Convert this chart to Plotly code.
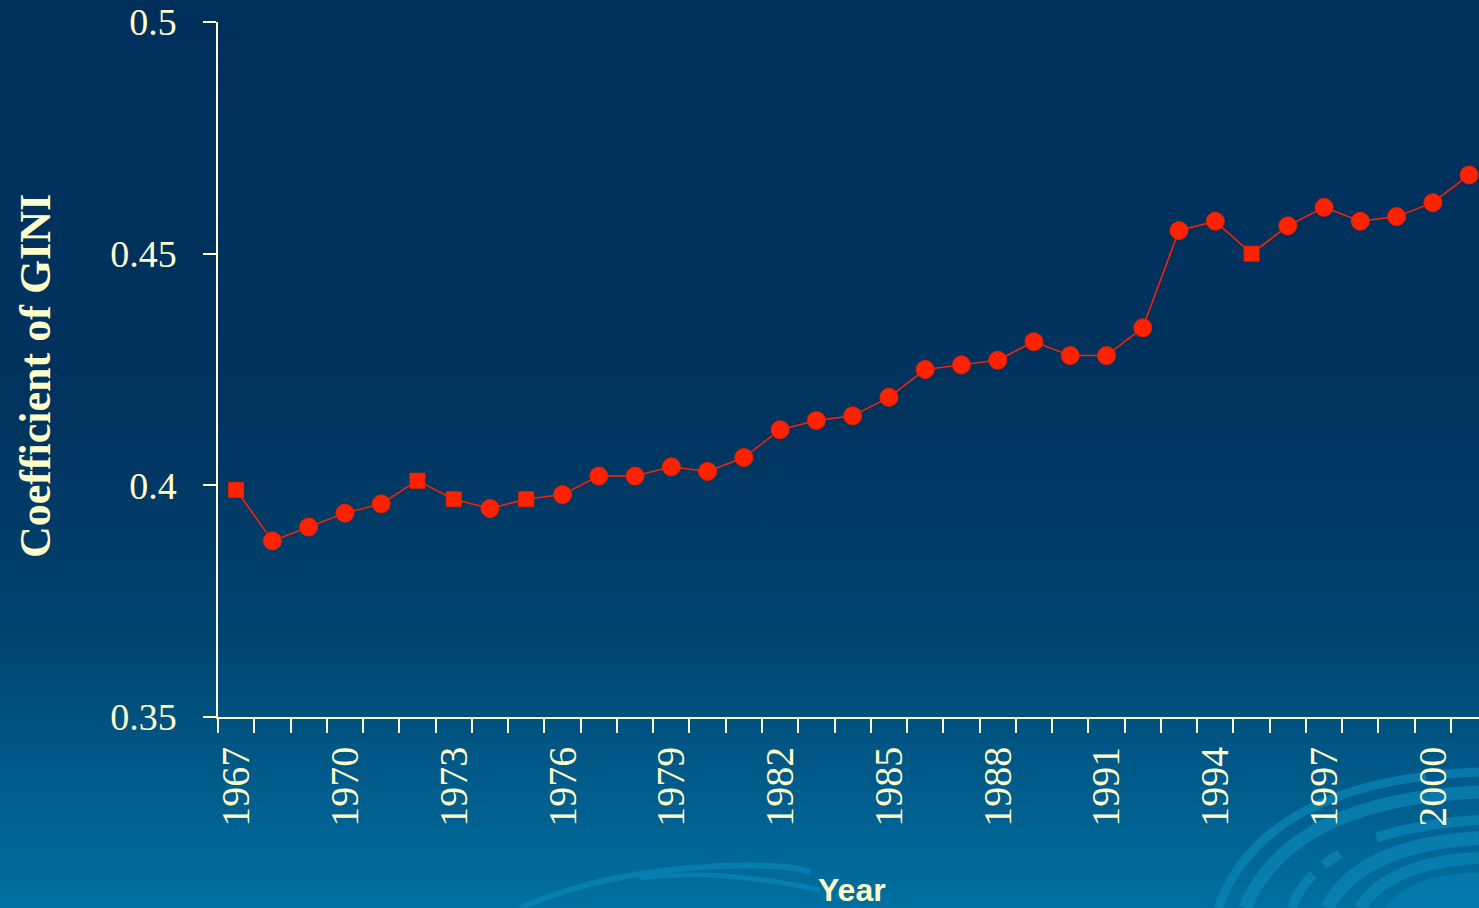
import base64
import plotly.graph_objects as go

# Household income Gini coefficient, 1967-2001
years = list(range(1967, 2002))
gini = [0.399, 0.388, 0.391, 0.394, 0.396, 0.401, 0.397, 0.395, 0.397, 0.398,
        0.402, 0.402, 0.404, 0.403, 0.406, 0.412, 0.414, 0.415, 0.419, 0.425,
        0.426, 0.427, 0.431, 0.428, 0.428, 0.434, 0.455, 0.457, 0.450, 0.456,
        0.460, 0.457, 0.458, 0.461, 0.467]
square_years = [1967, 1972, 1973, 1975, 1995]

y_ticks = [0.35, 0.4, 0.45, 0.5]
y_ticktext = ["0.35", "0.4", "0.45", "0.5"]
x_label_years = years[::3]

W, H = 1479, 908
L, R, T, B = 218, 0, 22, 191
plot_w = W - L - R
plot_h = H - T - B

CREAM = "#FFFFCC"
RED = "#FF2200"
SERIF = "Liberation Serif, Times New Roman, serif"

# Slide background: vertical gradient with decorative swirl arcs
bg_svg = f"""<svg xmlns='http://www.w3.org/2000/svg' width='{W}' height='{H}' viewBox='0 0 {W} {H}' preserveAspectRatio='none'>
<defs><linearGradient id='g' x1='0' y1='0' x2='0' y2='1'>
<stop offset='0' stop-color='#002F5B'/>
<stop offset='0.45' stop-color='#00335E'/>
<stop offset='0.70' stop-color='#004470'/>
<stop offset='0.88' stop-color='#005E8E'/>
<stop offset='1' stop-color='#0070A0'/>
</linearGradient></defs>
<rect width='{W}' height='{H}' fill='url(#g)'/>
<g fill='none' stroke='#0A84B6' stroke-opacity='0.75' stroke-linecap='butt'>
<path d='M 1218 908 Q 1265 780 1479 772' stroke-width='9' stroke-dasharray='260 18 400'/>
<path d='M 1245 908 Q 1290 800 1479 792' stroke-width='13'/>
<path d='M 1292 908 Q 1320 830 1479 820' stroke-width='10' stroke-dasharray='40 14 20 40 200'/>
<path d='M 1327 908 Q 1360 845 1479 838' stroke-width='14'/>
<path d='M 1360 908 Q 1390 862 1479 858' stroke-width='12'/>
<path d='M 520 908 Q 600 872 720 866 Q 790 864 810 872' stroke-width='6'/>
<path d='M 640 878 Q 720 868 820 890' stroke-width='5'/>
</g>
<ellipse cx='1470' cy='935' rx='95' ry='62' fill='#0A84B6' fill-opacity='0.55'/>
</svg>"""
bg_uri = "data:image/svg+xml;base64," + base64.b64encode(bg_svg.encode()).decode()

symbols = ["square" if y in square_years else "circle" for y in years]
sizes = [15 if y in square_years else 18 for y in years]

fig = go.Figure()
fig.add_trace(go.Scatter(
    x=years, y=gini, mode="lines+markers",
    line=dict(color=RED, width=1.5),
    marker=dict(symbol=symbols, size=sizes, color=RED, opacity=1,
                line=dict(color="#E82000", width=1)),
    cliponaxis=False, showlegend=False,
))

boundaries = [y - 0.5 for y in years] + [years[-1] + 0.5]
x_start = years[0] - 0.5
x_end = x_start + (plot_w + 4) / 36.38

fig.update_layout(
    width=W, height=H,
    margin=dict(l=L, r=R, t=T, b=B, pad=0),
    paper_bgcolor="#002F5B",
    plot_bgcolor="rgba(0,0,0,0)",
    images=[dict(source=bg_uri, xref="paper", yref="paper",
                 x=-L / plot_w, y=1 + T / plot_h,
                 sizex=W / plot_w, sizey=H / plot_h,
                 xanchor="left", yanchor="top", sizing="stretch",
                 layer="below")],
    xaxis=dict(
        range=[x_start, x_end],
        showgrid=False, zeroline=False,
        showline=True, linecolor=CREAM, linewidth=1.5,
        tickmode="array", tickvals=x_label_years,
        ticktext=[str(y) for y in x_label_years],
        ticks="", tickangle=-90,
        tickfont=dict(family=SERIF, size=40, color=CREAM),
        ticklabelstandoff=12,
        minor=dict(tickmode="array", tickvals=boundaries, ticks="outside",
                   ticklen=14, tickwidth=1.5, tickcolor=CREAM, showgrid=False),
    ),
    yaxis=dict(
        range=[0.35, 0.5],
        showgrid=False, zeroline=False,
        showline=True, linecolor=CREAM, linewidth=1.5,
        tickmode="array", tickvals=y_ticks, ticktext=y_ticktext,
        ticks="outside", ticklen=13, tickwidth=1.5, tickcolor=CREAM,
        tickfont=dict(family=SERIF, size=38, color=CREAM),
        ticklabelstandoff=19,
    ),
    annotations=[
        dict(text="<b>Coefficient of GINI</b>", xref="paper", yref="paper",
             x=(35 - L) / plot_w, y=(H - B - 376) / plot_h,
             xanchor="center", yanchor="middle", textangle=-90,
             showarrow=False,
             font=dict(family=SERIF, size=44, color=CREAM)),
        dict(text="<b>Year</b>", xref="paper", yref="paper",
             x=(852 - L) / plot_w, y=(H - B - 890) / plot_h,
             xanchor="center", yanchor="middle", showarrow=False,
             font=dict(family="Liberation Sans, Arial, sans-serif", size=32,
                       color=CREAM)),
    ],
)

fig.write_html("out.html")
